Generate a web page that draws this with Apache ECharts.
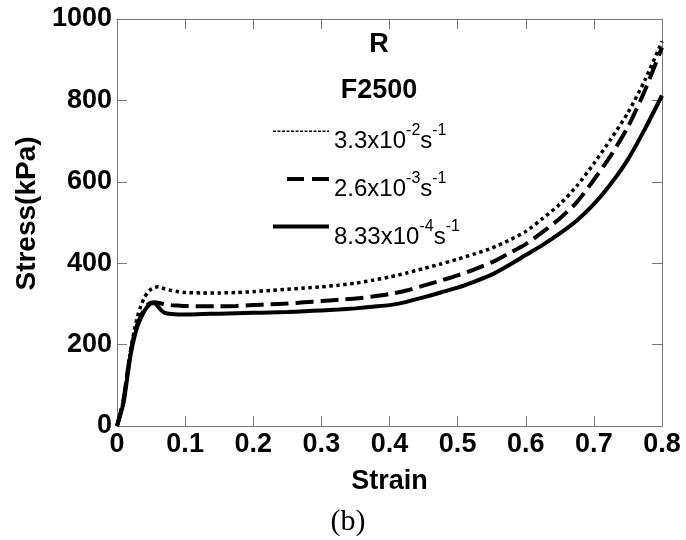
<!DOCTYPE html>
<html>
<head>
<meta charset="utf-8">
<title>Stress–strain, R F2500</title>
<script src="https://cdn.jsdelivr.net/npm/echarts@6/dist/echarts.min.js"></script>
<style>
  html, body { margin: 0; padding: 0; background: #fff; }
  #chart { width: 686px; height: 540px; }
</style>
</head>
<body>
<div id="chart"></div>
<script>
// Engineering strain sample points (shared by all three curves)
const strain = [0, 0.005, 0.01, 0.015, 0.02, 0.025, 0.03, 0.035, 0.04, 0.045, 0.05, 0.055,
  0.06, 0.065, 0.07, 0.08, 0.09, 0.1,
  0.125, 0.15, 0.175, 0.2, 0.225, 0.25, 0.275, 0.3, 0.325, 0.35, 0.375, 0.4,
  0.425, 0.45, 0.475, 0.5, 0.525, 0.55, 0.575, 0.6, 0.625, 0.65, 0.675, 0.7,
  0.725, 0.75, 0.775, 0.8];

// Stress (kPa) at each strain, one array per strain rate
const stressFast = [0, 30, 68, 128, 185, 232, 268, 295, 315, 328, 336, 340,
  342, 340, 337, 333, 330, 328,
  327, 327, 328, 330, 333, 336, 339, 342, 346, 351, 358, 366,
  376, 387, 398, 410, 423, 437, 456, 478, 510, 545, 590, 645,
  705, 770, 850, 945];
const stressMedium = [0, 32, 70, 128, 182, 222, 250, 270, 287, 298, 303, 304,
  303, 301, 299, 297, 296, 295,
  294, 294, 295, 297, 299, 301, 304, 307, 310, 313, 318, 324,
  333, 345, 357, 370, 385, 402, 424, 447, 477, 510, 550, 605,
  665, 735, 825, 930];
const stressSlow = [0, 28, 60, 118, 175, 215, 245, 265, 282, 294, 301, 302,
  294, 284, 278, 275, 274, 274,
  275, 276, 277, 278, 279, 280, 282, 284, 286, 289, 293, 297,
  305, 316, 328, 340, 355, 372, 395, 420, 445, 473, 505, 545,
  595, 655, 730, 812];

// Legend entries: mantissa, exponent of 10
const rateNames = ['fast', 'medium', 'slow'];
const rateLabels = [['3.3', '-2'], ['2.6', '-3'], ['8.33', '-4']];

const xTicks = { min: 0, max: 0.8, interval: 0.1 };
const yTicks = { min: 0, max: 1000, interval: 200 };

function pairs(ys) { return strain.map((x, i) => [x, ys[i]]); }

const axisColor = '#777';
const sans = 'Liberation Sans, Arial, sans-serif';
const tickFont = { fontFamily: sans, fontWeight: 'bold', fontSize: 27, color: '#000' };
const hiddenSymbol = { color: 'rgba(0,0,0,0)', borderColor: 'rgba(0,0,0,0)', borderWidth: 0, opacity: 0 };

const chart = echarts.init(document.getElementById('chart'), null, { renderer: 'canvas' });

const labelMap = {};
rateNames.forEach((n, i) => { labelMap[n] = rateLabels[i]; });

chart.setOption({
  animation: false,
  backgroundColor: '#fff',
  title: [
    {
      text: 'R\nF2500',
      left: 374, top: 17, textAlign: 'center',
      textStyle: { fontFamily: sans, fontWeight: 'bold', fontSize: 27, lineHeight: 46, color: '#000' }
    },
    {
      text: '(b)',
      left: 343, top: 502, textAlign: 'center',
      textStyle: { fontFamily: 'Liberation Serif, Times New Roman, serif', fontWeight: 'normal', fontSize: 30, color: '#000' }
    }
  ],
  grid: { left: 117, right: 24, top: 19, bottom: 114, containLabel: false },
  legend: {
    orient: 'vertical',
    left: 266, top: 107,
    itemWidth: 56, itemHeight: 48, itemGap: 6,
    selectedMode: false,
    itemStyle: hiddenSymbol,
    data: [
      { name: 'fast', itemStyle: hiddenSymbol, lineStyle: { color: '#000', width: 1.5, type: [3, 1.5] } },
      { name: 'medium', itemStyle: hiddenSymbol, lineStyle: { color: '#000', width: 4, type: [17, 8, 17, 14], dashOffset: 42 } },
      { name: 'slow', itemStyle: hiddenSymbol, lineStyle: { color: '#000', width: 4, type: 'solid' } }
    ],
    formatter: function (name) {
      const l = labelMap[name];
      return '{t|' + l[0] + 'x10}{s|' + l[1] + '}{t|s}{s|-1}';
    },
    textStyle: {
      padding: [14, 0, 0, 0],
      rich: {
        t: { fontFamily: sans, fontSize: 24, color: '#000', lineHeight: 31, verticalAlign: 'bottom' },
        s: { fontFamily: sans, fontSize: 16, color: '#000', lineHeight: 16, verticalAlign: 'top' }
      }
    }
  },
  xAxis: [
    {
      type: 'value', position: 'bottom',
      min: xTicks.min, max: xTicks.max, interval: xTicks.interval,
      name: 'Strain', nameLocation: 'middle', nameGap: 42,
      nameTextStyle: { fontFamily: sans, fontWeight: 'bold', fontSize: 27, color: '#000' },
      axisLine: { show: true, onZero: false, lineStyle: { color: axisColor, width: 1 } },
      axisTick: { show: true, inside: true, length: 10, lineStyle: { color: axisColor } },
      axisLabel: Object.assign({ margin: 5, formatter: v => (v === 0 ? '0' : v.toFixed(1)) }, tickFont),
      splitLine: { show: false }
    },
    {
      type: 'value', position: 'top',
      min: xTicks.min, max: xTicks.max, interval: xTicks.interval,
      axisLine: { show: true, onZero: false, lineStyle: { color: axisColor, width: 1 } },
      axisTick: { show: true, inside: true, length: 10, lineStyle: { color: axisColor } },
      axisLabel: { show: false },
      splitLine: { show: false }
    }
  ],
  yAxis: [
    {
      type: 'value', position: 'left',
      min: yTicks.min, max: yTicks.max, interval: yTicks.interval,
      name: 'Stress(kPa)', nameLocation: 'middle', nameGap: 70, nameRotate: 90,
      nameTextStyle: { fontFamily: sans, fontWeight: 'bold', fontSize: 28, color: '#000', padding: [0, 0, 0, 18] },
      axisLine: { show: true, onZero: false, lineStyle: { color: axisColor, width: 1 } },
      axisTick: { show: true, inside: true, length: 10, lineStyle: { color: axisColor } },
      axisLabel: Object.assign({ margin: 5, formatter: v => String(v) }, tickFont),
      splitLine: { show: false }
    },
    {
      type: 'value', position: 'right',
      min: yTicks.min, max: yTicks.max, interval: yTicks.interval,
      axisLine: { show: true, onZero: false, lineStyle: { color: axisColor, width: 1 } },
      axisTick: { show: true, inside: true, length: 10, lineStyle: { color: axisColor } },
      axisLabel: { show: false },
      splitLine: { show: false }
    }
  ],
  series: [
    {
      name: 'fast', type: 'line', xAxisIndex: 0, yAxisIndex: 0,
      data: pairs(stressFast), symbol: 'none', smooth: 0.25,
      lineStyle: { color: '#000', width: 3.5, type: [3.5, 3.5], cap: 'butt' }
    },
    {
      name: 'medium', type: 'line', xAxisIndex: 0, yAxisIndex: 0,
      data: pairs(stressMedium), symbol: 'none', smooth: 0.25,
      lineStyle: { color: '#000', width: 4, type: [18, 7], cap: 'butt' }
    },
    {
      name: 'slow', type: 'line', xAxisIndex: 0, yAxisIndex: 0,
      data: pairs(stressSlow), symbol: 'none', smooth: 0.25,
      lineStyle: { color: '#000', width: 4, type: 'solid' }
    }
  ]
});
</script>
</body>
</html>
